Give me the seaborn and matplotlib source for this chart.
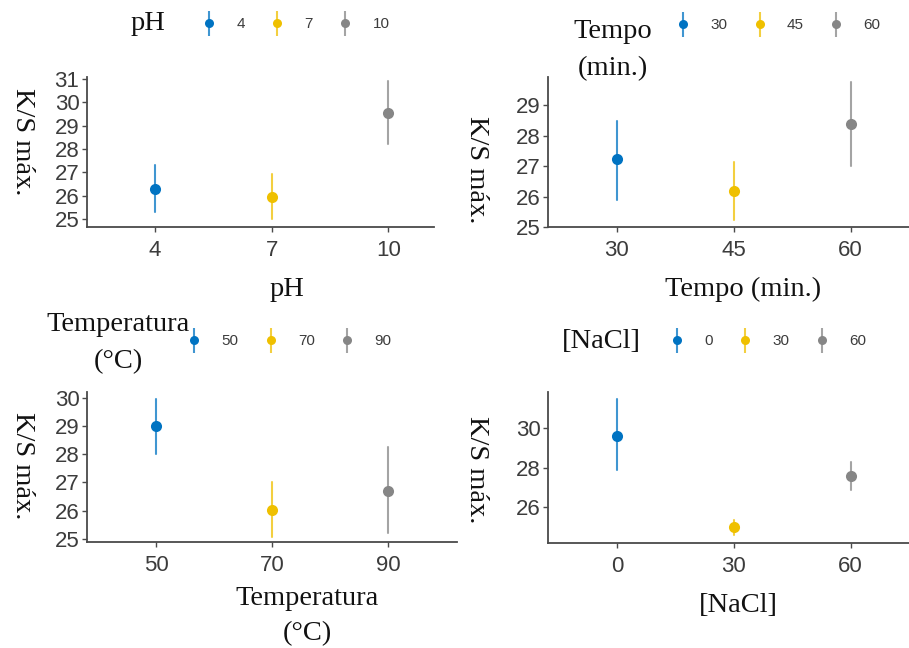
import numpy as np
import pandas as pd
import matplotlib
matplotlib.use("Agg")
import matplotlib.pyplot as plt
from matplotlib.lines import Line2D
from matplotlib.legend_handler import HandlerTuple
import seaborn as sns

sns.set_theme(style="white")
plt.rcParams['font.family'] = ['Liberation Sans', 'DejaVu Sans']

# ---------------- data ----------------
colors = ["#0073C2", "#EFC000", "#868686"]

ph_levels = ["4", "7", "10"]
ph_mean = [26.3, 25.95, 29.55]
ph_low = [25.3, 25.0, 28.2]
ph_high = [27.3, 26.95, 30.9]

tempo_levels = ["30", "45", "60"]
tempo_mean = [27.22, 26.17, 28.37]
tempo_low = [25.88, 25.22, 27.0]
tempo_high = [28.48, 27.13, 29.74]

temp_levels = ["50", "70", "90"]
temp_mean = [29.0, 26.04, 26.71]
temp_low = [28.0, 25.07, 25.22]
temp_high = [29.96, 27.03, 28.27]

nacl_levels = ["0", "30", "60"]
nacl_mean = [29.62, 24.98, 27.58]
nacl_low = [27.87, 24.56, 26.85]
nacl_high = [31.5, 25.33, 28.3]

ylabel = "K/S máx."
SERIF = ['Liberation Serif', 'DejaVu Serif']
W, H = 909, 648

fig = plt.figure(figsize=(W / 100, H / 100), dpi=100)


def fx(px):
    return px / W


def fy(py):
    return 1 - py / H


def panel(rect_px, levels, mean, low, high, xlim, ylim, yticks,
          xlabel, xlabel_pos, ylab_pos, leg_title, title_pos,
          key0, leg_y):
    l, t, r, b = rect_px
    ax = fig.add_axes([fx(l), fy(b), fx(r - l), (b - t) / H])
    df = pd.DataFrame({
        "cat": np.repeat(levels, 3),
        "val": np.ravel(np.column_stack([low, mean, high])),
    })
    sns.pointplot(data=df, x="cat", y="val", hue="cat", order=levels,
                  hue_order=levels, palette=colors, estimator="median",
                  errorbar=("pi", 100), linestyle="none", markers="o",
                  markersize=8, markeredgewidth=0,
                  err_kws={"linewidth": 1.5, "alpha": 0.75},
                  legend=False, ax=ax)
    ax.set_xlim(*xlim)
    ax.set_ylim(*ylim)
    ax.set_yticks(yticks)
    ax.set_yticklabels([str(v) for v in yticks])
    for s in ["top", "right"]:
        ax.spines[s].set_visible(False)
    for s in ["left", "bottom"]:
        ax.spines[s].set_color("#4a4a4a")
        ax.spines[s].set_linewidth(1.3)
    ax.tick_params(axis="both", which="both", length=3.5, width=1.0,
                   color="#4a4a4a", labelsize=16, labelcolor="#3c3c3c",
                   pad=2, left=True, bottom=True)
    ax.tick_params(axis="x", pad=6)
    ax.set_xlabel(xlabel, family=SERIF, fontsize=20.5, color="#111111",
                  linespacing=1.55)
    ax.xaxis.set_label_coords(fx(xlabel_pos[0]), fy(xlabel_pos[1]),
                              transform=fig.transFigure)
    ax.xaxis.label.set_va("center")
    ax.set_ylabel(ylabel, family=SERIF, fontsize=20.5, color="#111111",
                  rotation=270)
    ax.yaxis.set_label_coords(fx(ylab_pos[0]), fy(ylab_pos[1]),
                              transform=fig.transFigure)
    ax.yaxis.label.set_va("center")
    ax.yaxis.label.set_ha("center")

    # legend title
    fig.text(fx(title_pos[0]), fy(title_pos[1]), leg_title, family=SERIF,
             fontsize=20.5, color="#111111", ha="center", va="center",
             linespacing=1.6)
    # legend entries
    handles = []
    for c in colors:
        vline = Line2D([], [], marker="|", markersize=18, markeredgewidth=1.5,
                       linestyle="none", color=c, alpha=0.75)
        dot = Line2D([], [], marker="o", markersize=6.5, markeredgewidth=0,
                     linestyle="none", color=c)
        handles.append((vline, dot))
    fs_px = 11 * 100 / 72
    hl = 1.0
    fig.legend(handles, levels, ncol=3, frameon=False,
               loc="center left",
               bbox_to_anchor=(fx(key0 - hl * fs_px / 2), fy(leg_y)),
               borderpad=0, borderaxespad=0, handlelength=hl,
               handletextpad=1.3, columnspacing=1.6, numpoints=1,
               handler_map={tuple: HandlerTuple(ndivide=1, pad=0)},
               prop={"size": 11}, labelcolor="#3c3c3c")
    return ax


panel((87, 77, 434, 227), ph_levels, ph_mean, ph_low, ph_high,
      (-0.58, 2.39), (24.66, 31.09), [25, 26, 27, 28, 29, 30, 31],
      "pH", (287, 289), (22, 142), "pH", (148, 24), 209, 24)

panel((548, 77, 909, 227), tempo_levels, tempo_mean, tempo_low, tempo_high,
      (-0.59, 2.5), (25.0, 29.92), [25, 26, 27, 28, 29],
      "Tempo (min.)", (743, 289), (477, 170), "Tempo\n(min.)", (613, 50),
      683, 25)

panel((87, 392, 457, 542), temp_levels, temp_mean, temp_low, temp_high,
      (-0.595, 2.595), (24.89, 30.2), [25, 26, 27, 28, 29, 30],
      "Temperatura\n(°C)", (307, 616), (22, 466), "Temperatura\n(°C)",
      (118, 343), 194, 341)

panel((548, 392, 909, 543), nacl_levels, nacl_mean, nacl_low, nacl_high,
      (-0.59, 2.5), (24.15, 31.85), [26, 28, 30],
      "[NaCl]", (738, 605), (477, 470), "[NaCl]", (601, 342), 677, 341)

fig.savefig("out.png", dpi=100)
